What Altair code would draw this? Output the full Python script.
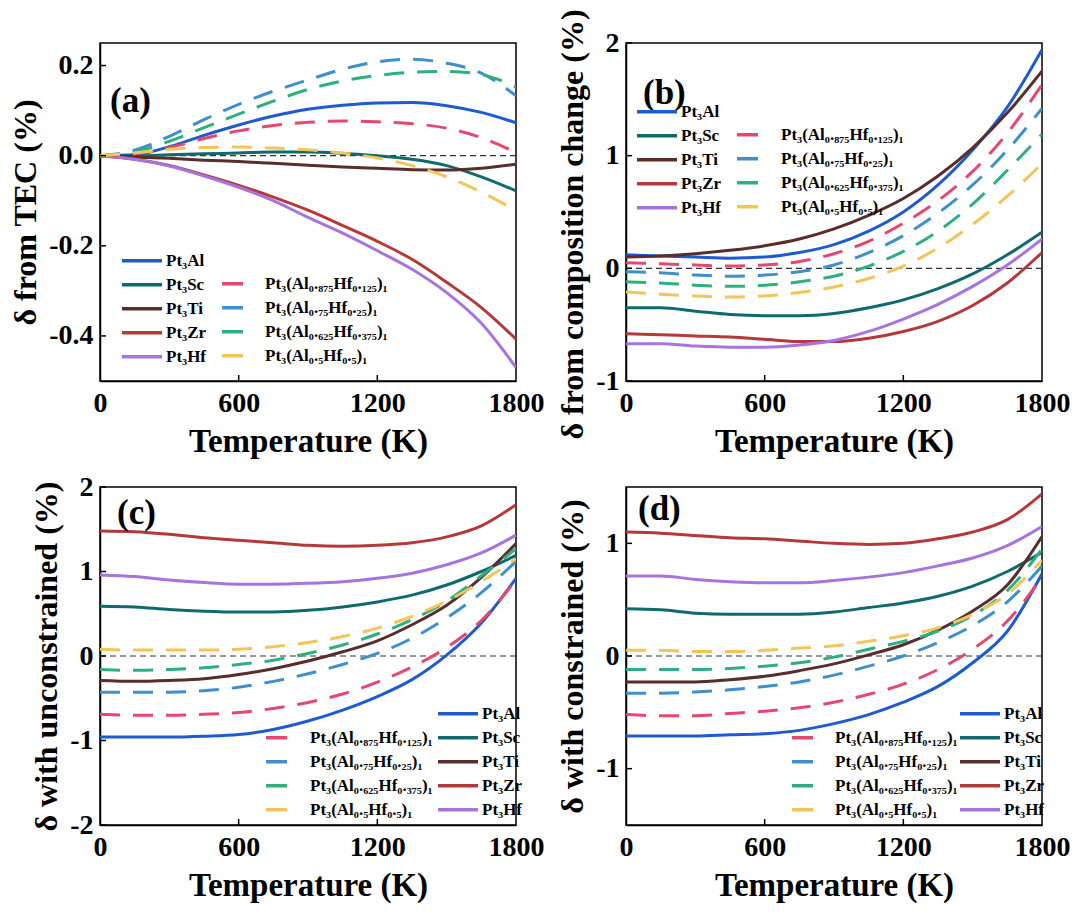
import altair as alt
import pandas as pd

# ---------------- data ----------------
T = [0, 150, 300, 450, 600, 750, 900, 1050, 1200, 1350, 1500, 1650, 1800]

SOLID = ["Pt₃Al", "Pt₃Sc", "Pt₃Ti", "Pt₃Zr", "Pt₃Hf"]
DASHED = ["Pt₃(Al₀.₈₇₅Hf₀.₁₂₅)₁", "Pt₃(Al₀.₇₅Hf₀.₂₅)₁",
          "Pt₃(Al₀.₆₂₅Hf₀.₃₇₅)₁", "Pt₃(Al₀.₅Hf₀.₅)₁"]
SOLID_COLORS = ["#1f5bd0", "#0f6a6e", "#5a2c2c", "#b5393a", "#a774dd"]
DASHED_COLORS = ["#e4486f", "#3f8fcd", "#2fae7e", "#f3c45a"]

# (a) delta from TEC
a_Al = [0, 0.002, 0.02, 0.045, 0.068, 0.088, 0.103, 0.112, 0.117, 0.118, 0.111, 0.096, 0.073]
a_Sc = [0, 0, 0.002, 0.004, 0.006, 0.008, 0.008, 0.005, 0, -0.008, -0.022, -0.047, -0.078]
a_Ti = [0, -0.003, -0.006, -0.01, -0.013, -0.017, -0.021, -0.025, -0.028, -0.031, -0.032, -0.028, -0.019]
a_Zr = [0, -0.008, -0.022, -0.043, -0.066, -0.092, -0.121, -0.155, -0.19, -0.23, -0.281, -0.337, -0.407]
a_Hf = [0, -0.008, -0.023, -0.045, -0.07, -0.1, -0.137, -0.172, -0.211, -0.252, -0.304, -0.372, -0.47]
a_H1 = [0, 0.004, 0.018, 0.038, 0.055, 0.067, 0.074, 0.077, 0.075, 0.071, 0.061, 0.04, 0.007]
a_H2 = [0, 0.012, 0.043, 0.08, 0.114, 0.143, 0.168, 0.192, 0.208, 0.214, 0.205, 0.183, 0.133]
a_H3 = [0, 0.008, 0.032, 0.062, 0.092, 0.121, 0.147, 0.166, 0.178, 0.185, 0.187, 0.18, 0.152]
a_H4 = [0, 0.006, 0.014, 0.018, 0.019, 0.017, 0.013, 0.006, -0.005, -0.022, -0.047, -0.081, -0.122]

# (b) delta from composition change
b_Al = [0.12, 0.11, 0.1, 0.09, 0.1, 0.14, 0.21, 0.33, 0.5, 0.74, 1.05, 1.43, 1.94]
b_Sc = [-0.35, -0.35, -0.38, -0.41, -0.42, -0.42, -0.4, -0.35, -0.28, -0.18, -0.05, 0.12, 0.32]
b_Ti = [0.1, 0.11, 0.13, 0.16, 0.2, 0.26, 0.35, 0.47, 0.62, 0.82, 1.07, 1.38, 1.75]
b_Zr = [-0.58, -0.59, -0.6, -0.61, -0.63, -0.65, -0.65, -0.62, -0.56, -0.47, -0.33, -0.13, 0.14]
b_Hf = [-0.67, -0.67, -0.69, -0.7, -0.7, -0.68, -0.64, -0.56, -0.45, -0.32, -0.16, 0.03, 0.26]
b_H1 = [0.05, 0.04, 0.03, 0.02, 0.03, 0.06, 0.13, 0.24, 0.4, 0.6, 0.86, 1.2, 1.63]
b_H2 = [-0.03, -0.04, -0.06, -0.07, -0.06, -0.03, 0.03, 0.14, 0.29, 0.49, 0.74, 1.05, 1.42]
b_H3 = [-0.12, -0.13, -0.15, -0.16, -0.15, -0.12, -0.07, 0.02, 0.15, 0.33, 0.57, 0.87, 1.19]
b_H4 = [-0.21, -0.23, -0.245, -0.255, -0.245, -0.215, -0.165, -0.09, 0.02, 0.18, 0.39, 0.64, 0.93]

# (c) delta with unconstrained
c_Al = [-0.96, -0.96, -0.96, -0.95, -0.93, -0.87, -0.77, -0.64, -0.48, -0.28, 0.01, 0.39, 0.92]
c_Sc = [0.59, 0.58, 0.55, 0.53, 0.52, 0.52, 0.54, 0.58, 0.64, 0.72, 0.84, 1.0, 1.19]
c_Ti = [-0.29, -0.3, -0.29, -0.27, -0.22, -0.15, -0.06, 0.05, 0.18, 0.37, 0.6, 0.93, 1.33]
c_Zr = [1.48, 1.47, 1.44, 1.4, 1.37, 1.34, 1.31, 1.3, 1.31, 1.34, 1.41, 1.54, 1.79]
c_Hf = [0.96, 0.94, 0.9, 0.87, 0.85, 0.85, 0.86, 0.88, 0.92, 0.98, 1.08, 1.22, 1.43]
c_H1 = [-0.69, -0.7, -0.7, -0.69, -0.67, -0.62, -0.55, -0.45, -0.31, -0.13, 0.1, 0.42, 0.9]
c_H2 = [-0.43, -0.43, -0.43, -0.41, -0.37, -0.3, -0.21, -0.1, 0.03, 0.21, 0.45, 0.75, 1.12]
c_H3 = [-0.16, -0.17, -0.16, -0.14, -0.1, -0.05, 0.03, 0.13, 0.26, 0.43, 0.65, 0.95, 1.27]
c_H4 = [0.08, 0.07, 0.07, 0.07, 0.08, 0.11, 0.16, 0.23, 0.33, 0.47, 0.65, 0.88, 1.15]

# (d) delta with constrained
d_Al = [-0.71, -0.71, -0.71, -0.7, -0.69, -0.66, -0.6, -0.52, -0.41, -0.27, -0.06, 0.22, 0.73]
d_Sc = [0.42, 0.41, 0.38, 0.37, 0.37, 0.37, 0.39, 0.43, 0.47, 0.53, 0.62, 0.75, 0.92]
d_Ti = [-0.23, -0.23, -0.23, -0.21, -0.18, -0.13, -0.07, 0.01, 0.1, 0.23, 0.4, 0.63, 1.06]
d_Zr = [1.1, 1.09, 1.07, 1.05, 1.04, 1.02, 1.0, 0.99, 1.0, 1.04, 1.1, 1.21, 1.44]
d_Hf = [0.71, 0.71, 0.68, 0.66, 0.65, 0.65, 0.67, 0.7, 0.74, 0.8, 0.87, 0.98, 1.15]
d_H1 = [-0.52, -0.53, -0.53, -0.51, -0.49, -0.46, -0.41, -0.34, -0.25, -0.12, 0.06, 0.31, 0.7]
d_H2 = [-0.33, -0.33, -0.32, -0.3, -0.27, -0.23, -0.17, -0.09, 0.0, 0.12, 0.27, 0.48, 0.8]
d_H3 = [-0.12, -0.12, -0.12, -0.11, -0.09, -0.06, -0.01, 0.06, 0.13, 0.22, 0.36, 0.58, 0.95]
d_H4 = [0.05, 0.05, 0.04, 0.04, 0.05, 0.07, 0.09, 0.13, 0.18, 0.25, 0.37, 0.55, 0.85]

X_TICKS = [0, 600, 1200, 1800]
X_INNER_TICKS = [600, 1200]

FONT = "Liberation Serif, Times New Roman, serif"
W, H = 416, 338
TICK = 6


def long_df(names, series):
    rows = []
    for name, vals in zip(names, series):
        for t, v in zip(T, vals):
            rows.append({"T": t, "v": v, "s": name})
    return pd.DataFrame(rows)


def panel(tag, tag_xy, solid, dashed, ydom, yticks, yfmt, ytitle,
          solid_leg, dashed_leg, title_y=None):
    x_enc = alt.X("T:Q", scale=alt.Scale(domain=[0, 1800], nice=False),
                  axis=alt.Axis(values=X_TICKS, format="d", labelFlush=False,
                                title="Temperature (K)", titleFontSize=33,
                                titlePadding=8, labelPadding=8))
    yaxis_kw = dict(values=yticks, format=yfmt,
                    labelExpr="replace(datum.label, '−', '-')",
                    title=ytitle, titlePadding=6, labelPadding=7)
    if title_y is not None:
        yaxis_kw["titleY"] = title_y
    y_enc = alt.Y("v:Q", scale=alt.Scale(domain=ydom, nice=False, zero=False),
                  axis=alt.Axis(**yaxis_kw))

    leg_common = dict(orient="none", title=None, symbolType="stroke",
                      labelFont=FONT, labelFontSize=17, labelFontWeight="bold",
                      labelColor="black", rowPadding=0, padding=0,
                      clipHeight=23.3, labelLimit=0, symbolStrokeWidth=3.5)

    solid_chart = alt.Chart(long_df(SOLID, solid)).mark_line(
        strokeWidth=3, interpolate="monotone", clip=True).encode(
        x=x_enc, y=y_enc,
        color=alt.Color("s:N", scale=alt.Scale(domain=SOLID, range=SOLID_COLORS),
                        legend=alt.Legend(legendX=solid_leg[0], legendY=solid_leg[1],
                                          symbolSize=1600, labelOffset=2,
                                          **leg_common)))
    dashed_chart = alt.Chart(long_df(DASHED, dashed)).mark_line(
        strokeWidth=3, strokeDash=[20, 13], interpolate="monotone", clip=True).encode(
        x="T:Q", y="v:Q",
        color=alt.Color("s:N", scale=alt.Scale(domain=DASHED, range=DASHED_COLORS),
                        legend=alt.Legend(legendX=dashed_leg[0], legendY=dashed_leg[1],
                                          symbolSize=440, labelOffset=dashed_leg[2],
                                          **leg_common)))
    zero = alt.Chart(pd.DataFrame({"v": [0]})).mark_rule(
        color="#333333", strokeWidth=1.2, strokeDash=[6, 4]).encode(y="v:Q")
    # inward tick marks
    xt = alt.Chart(pd.DataFrame({"T": X_INNER_TICKS})).mark_rule(
        color="black", strokeWidth=1.5).encode(
        x="T:Q", y=alt.value(H), y2=alt.value(H - TICK))
    yt = alt.Chart(pd.DataFrame({"v": yticks})).mark_rule(
        color="black", strokeWidth=1.5).encode(
        y="v:Q", x=alt.value(0), x2=alt.value(TICK))
    label = alt.Chart(pd.DataFrame({"t": [tag]})).mark_text(
        font=FONT, fontSize=35, fontWeight="bold", align="left",
        baseline="middle", color="black").encode(
        text="t:N", x=alt.value(tag_xy[0]), y=alt.value(tag_xy[1]))
    return alt.layer(zero, solid_chart, dashed_chart, xt, yt, label).resolve_scale(
        color="independent").properties(width=W, height=H)


pa = panel("(a)", (10, 58), [a_Al, a_Sc, a_Ti, a_Zr, a_Hf], [a_H1, a_H2, a_H3, a_H4],
           [-0.5, 0.25], [-0.4, -0.2, 0.0, 0.2], ".1f", "δ from TEC (%)",
           (20, 206), (120, 229, 20))
pb = panel("(b)", (17, 50), [b_Al, b_Sc, b_Ti, b_Zr, b_Hf], [b_H1, b_H2, b_H3, b_H4],
           [-1, 2], [-1, 0, 1, 2], "d", "δ from composition change (%)",
           (9, 57), (109, 80, 21), title_y=181)
pc = panel("(c)", (17, 26), [c_Al, c_Sc, c_Ti, c_Zr, c_Hf], [c_H1, c_H2, c_H3, c_H4],
           [-2, 2], [-2, -1, 0, 1, 2], "d", "δ with unconstrained (%)",
           (336, 215), (164, 239, 21))
pd_ = panel("(d)", (12, 22), [d_Al, d_Sc, d_Ti, d_Zr, d_Hf], [d_H1, d_H2, d_H3, d_H4],
            [-1.5, 1.5], [-1, 0, 1], "d", "δ with constrained (%)",
            (332, 215), (164, 239, 20))

chart = alt.concat(pa, pb, pc, pd_, columns=2, bounds="flush",
                   spacing={"row": 106, "column": 110}).resolve_scale(
    color="independent").properties(padding=0, background="white").configure_view(
    stroke="black", strokeWidth=1.5).configure_axis(
    labelFont=FONT, labelFontSize=28, labelFontWeight="bold", labelColor="black",
    titleFont=FONT, titleFontSize=32, titleFontWeight="bold", titleColor="black",
    grid=False, domainColor="black", domainWidth=1.5, ticks=False)

chart.save("out.html", embed_options={"renderer": "svg", "actions": False})
